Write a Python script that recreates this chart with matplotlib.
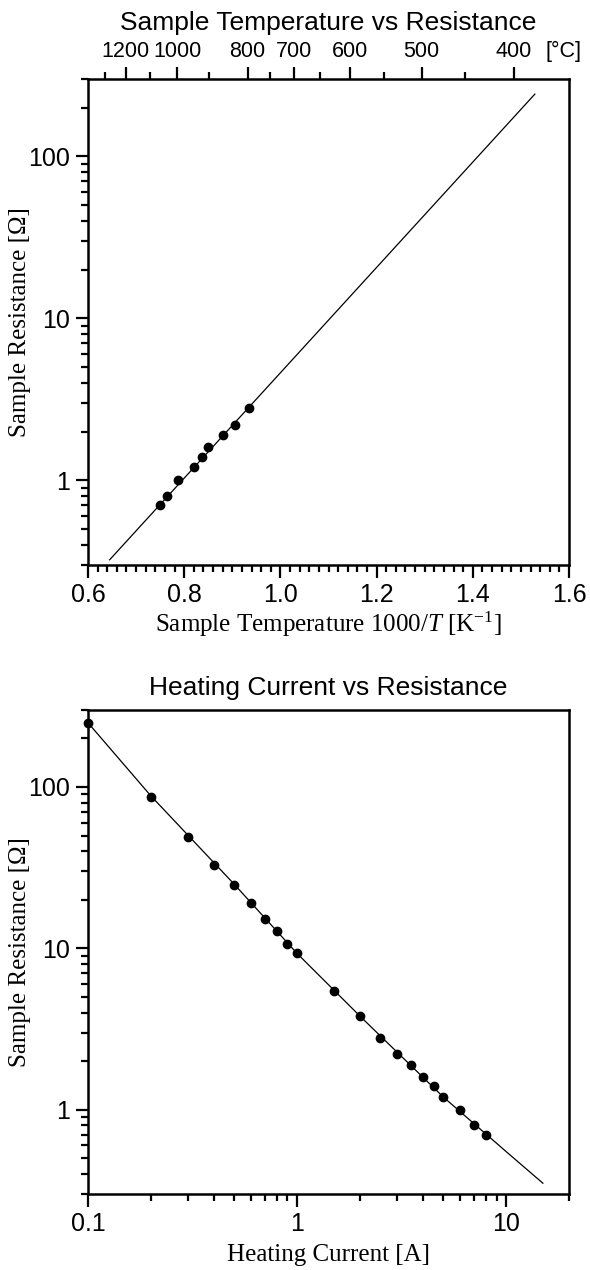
import matplotlib
matplotlib.use("Agg")
import matplotlib.pyplot as plt
from matplotlib.ticker import FuncFormatter, MultipleLocator, LogLocator, NullFormatter

# ---- data ----
inv_temp = [0.750, 0.765, 0.788, 0.820, 0.837, 0.849, 0.880, 0.906, 0.935]   # 1000/T [1/K]
res_temp = [0.70, 0.80, 1.00, 1.20, 1.40, 1.60, 1.90, 2.20, 2.80]            # Ohm

fit_inv_temp = [0.645, 1.529]
fit_res = [0.323, 242.0]

current = [0.1, 0.2, 0.3, 0.4, 0.5, 0.6, 0.7, 0.8, 0.9, 1.0, 1.5, 2.0, 2.5,
           3.0, 3.5, 4.0, 4.5, 5.0, 6.0, 7.0, 8.0]                           # A
res_current = [250, 87, 49, 33, 24.7, 19, 15.3, 12.8, 10.7, 9.3, 5.4, 3.8, 2.8,
               2.2, 1.9, 1.6, 1.4, 1.2, 1.0, 0.8, 0.7]                       # Ohm

curve_current = [0.1, 0.2, 0.5, 1.0, 2.0, 5.0, 10.0, 15.0]
curve_res = [250, 88, 25, 9.3, 3.8, 1.2, 0.55, 0.35]

temp_major_c = [1200, 1000, 800, 700, 600, 500, 400]
temp_minor_c = [1300, 1100, 900, 750, 650, 550, 450]

titles = ["Sample Temperature vs Resistance", "Heating Current vs Resistance"]
ylabel = "Sample Resistance [\u03a9]"
xlabel_top = "Sample Temperature 1000/$\\mathit{T}$ [K$^{\\mathregular{\u22121}}$]"
xlabel_bottom = "Heating Current [A]"

# ---- style ----
SANS = "Liberation Sans"
SERIF = "Liberation Serif"
plt.rcParams["font.family"] = [SANS, "DejaVu Sans"]
plt.rcParams["mathtext.fontset"] = "custom"
plt.rcParams["mathtext.rm"] = SERIF
plt.rcParams["mathtext.it"] = SERIF + ":italic"
plt.rcParams["axes.linewidth"] = 1.8

TICK_FS = 18
LABEL_FS = 18
TITLE_FS = 19
TEMP_FS = 15.5
MAJ_LEN, MIN_LEN = 9, 5
TEMP_PAD = 3

W, H = 590, 1270
fig = plt.figure(figsize=(W / 100, H / 100), dpi=100)

left, right = 88, 569
ax1_h = 565 - 79
ax1 = fig.add_axes([left / W, 1 - 565 / H, (right - left) / W, ax1_h / H])
ax2 = fig.add_axes([left / W, 1 - 1194 / H, (right - left) / W, (1194 - 710) / H])

def style_ticks(ax):
    ax.tick_params(which="major", direction="out", length=MAJ_LEN, width=1.6,
                   labelsize=TICK_FS, pad=4, top=False, right=False)
    ax.tick_params(which="minor", direction="out", length=MIN_LEN, width=1.6,
                   top=False, right=False)
    for lab in ax.get_xticklabels() + ax.get_yticklabels():
        lab.set_family(SANS)

fmt = FuncFormatter(lambda v, p: f"{v:g}")

# ---- top plot ----
ax1.set_yscale("log")
ax1.set_xlim(0.6, 1.6)
ax1.set_ylim(0.3, 300)
ax1.plot(fit_inv_temp, fit_res, color="black", lw=0.9)
ax1.plot(inv_temp, res_temp, "o", color="black", ms=6)
ax1.xaxis.set_major_locator(MultipleLocator(0.2))
ax1.xaxis.set_minor_locator(MultipleLocator(0.02))
ax1.xaxis.set_major_formatter(FuncFormatter(lambda v, p: f"{v:.1f}"))
ax1.yaxis.set_major_locator(LogLocator(base=10))
ax1.yaxis.set_minor_locator(LogLocator(base=10, subs=range(2, 10)))
ax1.yaxis.set_major_formatter(fmt)
ax1.yaxis.set_minor_formatter(NullFormatter())
style_ticks(ax1)
ax1.set_xlabel(xlabel_top, fontsize=LABEL_FS, family=SERIF, labelpad=2)
ax1.set_ylabel(ylabel, fontsize=LABEL_FS, family=SERIF)
ax1.yaxis.set_label_coords(-0.118, 0.5)

sec = ax1.secondary_xaxis("top", functions=(lambda x: 1000.0 / x - 273.15,
                                            lambda c: 1000.0 / (c + 273.15)))
sec.set_xticks(temp_major_c)
sec.set_xticks(temp_minor_c, minor=True)
sec.xaxis.set_major_formatter(FuncFormatter(lambda v, p: f"{v:.0f}"))
sec.tick_params(which="major", direction="out", length=MAJ_LEN, width=1.6,
                labelsize=TEMP_FS, pad=TEMP_PAD)
sec.tick_params(which="minor", direction="out", length=MIN_LEN, width=1.6)
sec.spines["top"].set_visible(False)
for lab in sec.get_xticklabels():
    lab.set_family(SANS)
off_px = (MAJ_LEN + TEMP_PAD) * 100 / 72
ax1.text(0.988, 1 + off_px / ax1_h, "[\u00b0C]", transform=ax1.transAxes,
         fontsize=TEMP_FS, ha="center", va="bottom", family=SANS)

# ---- bottom plot ----
ax2.set_xscale("log")
ax2.set_yscale("log")
ax2.set_xlim(0.1, 20)
ax2.set_ylim(0.3, 300)
ax2.plot(curve_current, curve_res, color="black", lw=0.9)
ax2.plot(current, res_current, "o", color="black", ms=6, clip_on=False)
for axis in (ax2.xaxis, ax2.yaxis):
    axis.set_major_locator(LogLocator(base=10))
    axis.set_minor_locator(LogLocator(base=10, subs=range(2, 10)))
    axis.set_major_formatter(fmt)
    axis.set_minor_formatter(NullFormatter())
style_ticks(ax2)
ax2.set_xlabel(xlabel_bottom, fontsize=LABEL_FS, family=SERIF, labelpad=6)
ax2.set_ylabel(ylabel, fontsize=LABEL_FS, family=SERIF)
ax2.yaxis.set_label_coords(-0.118, 0.5)

cx = (left + right) / 2 / W
fig.text(cx, 1 - 30 / H, titles[0], fontsize=TITLE_FS, ha="center", va="baseline", family=SANS)
fig.text(cx, 1 - 695 / H, titles[1], fontsize=TITLE_FS, ha="center", va="baseline", family=SANS)

fig.savefig("out.png", dpi=100)
